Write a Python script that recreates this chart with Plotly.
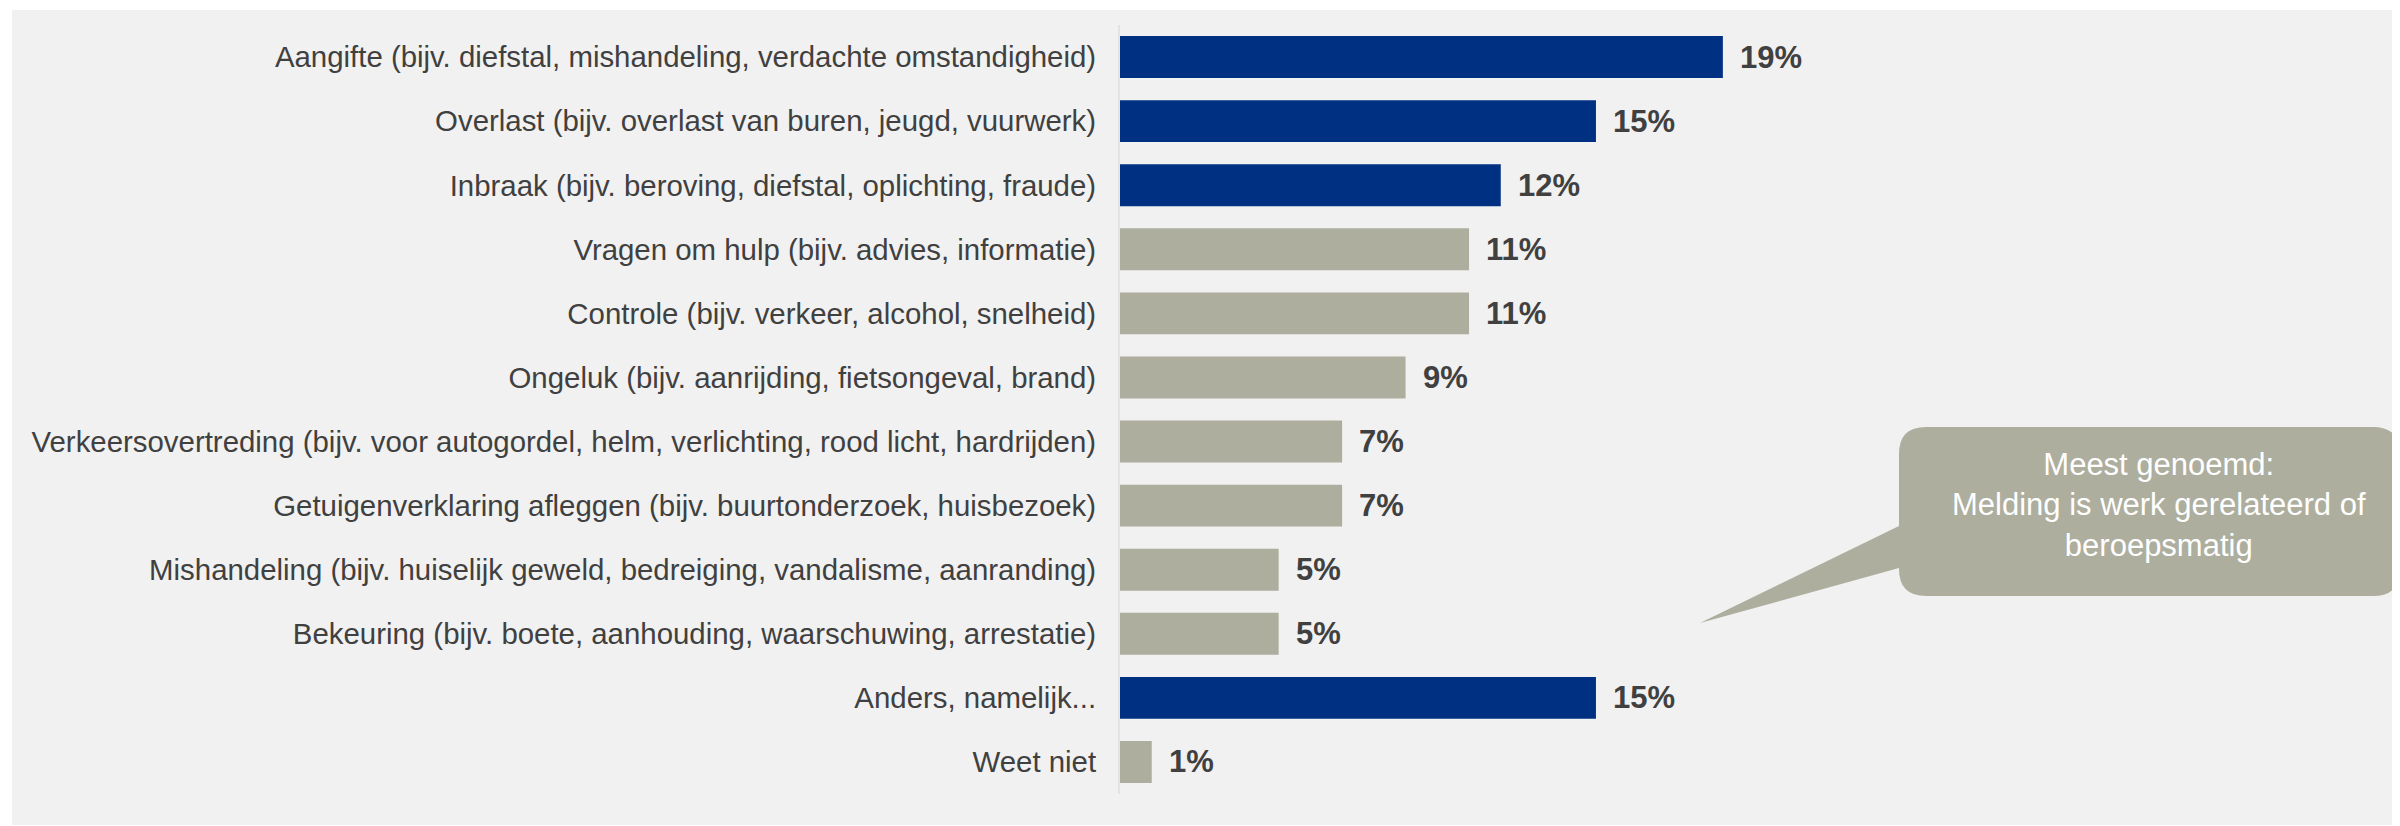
import plotly.graph_objects as go

# Data
categories = [
    'Aangifte (bijv. diefstal, mishandeling, verdachte omstandigheid)',
    'Overlast (bijv. overlast van buren, jeugd, vuurwerk)',
    'Inbraak (bijv. beroving, diefstal, oplichting, fraude)',
    'Vragen om hulp (bijv. advies, informatie)',
    'Controle (bijv. verkeer, alcohol, snelheid)',
    'Ongeluk (bijv. aanrijding, fietsongeval, brand)',
    'Verkeersovertreding (bijv. voor autogordel, helm, verlichting, rood licht, hardrijden)',
    'Getuigenverklaring afleggen (bijv. buurtonderzoek, huisbezoek)',
    'Mishandeling (bijv. huiselijk geweld, bedreiging, vandalisme, aanranding)',
    'Bekeuring (bijv. boete, aanhouding, waarschuwing, arrestatie)',
    'Anders, namelijk...',
    'Weet niet',
]
values = [19, 15, 12, 11, 11, 9, 7, 7, 5, 5, 15, 1]
highlighted = ['Aangifte (bijv. diefstal, mishandeling, verdachte omstandigheid)',
               'Overlast (bijv. overlast van buren, jeugd, vuurwerk)',
               'Inbraak (bijv. beroving, diefstal, oplichting, fraude)',
               'Anders, namelijk...']
callout_text = 'Meest genoemd:<br>Melding is werk gerelateerd of<br>beroepsmatig'

NAVY = '#003082'
GREY = '#adae9e'
BG = '#f1f1f1'
TXT = '#404040'
FONT = 'Arial, Liberation Sans, sans-serif'

W, H = 2400, 826
ML, MR, MT, MB = 1112, 0, 17, 40
PW, PH = W - ML - MR, H - MT - MB

# helpers to place decorations in pixel terms
def px(x):
    return (x - ML) / PW

def py(y):
    return (H - MB - y) / PH

colors = [NAVY if c in highlighted else GREY for c in categories]

fig = go.Figure()
fig.add_trace(go.Bar(
    x=values, y=categories, orientation='h',
    marker=dict(color=colors, line=dict(width=0)),
    hoverinfo='skip',
))

# value labels
for c, v in zip(categories, values):
    fig.add_annotation(x=v, y=c, text=f'<b>{v}%</b>', showarrow=False,
                       xanchor='left', xshift=15,
                       font=dict(family=FONT, size=31, color=TXT))

# grey background panel
fig.add_shape(type='rect', xref='paper', yref='paper',
              x0=px(4), x1=px(2400), y0=py(817), y1=py(2),
              fillcolor=BG, line=dict(width=0), layer='below')

# callout bubble with tail
r = 27
bx0, bx1, by0, by1 = 1891, 2392, 419, 588
tail_top, tail_bot, tip = 518, 560, (1692, 615)
pts = [
    ('M', bx0 + r, by0), ('L', bx1 - r, by0), ('Q', bx1, by0, bx1, by0 + r),
    ('L', bx1, by1 - r), ('Q', bx1, by1, bx1 - r, by1),
    ('L', bx0 + r, by1), ('Q', bx0, by1, bx0, by1 - r),
    ('L', bx0, tail_bot), ('L', tip[0], tip[1]), ('L', bx0, tail_top),
    ('L', bx0, by0 + r), ('Q', bx0, by0, bx0 + r, by0),
]
path = ''
for p in pts:
    cmd, coords = p[0], p[1:]
    xy = []
    for i in range(0, len(coords), 2):
        xy.append(f'{px(coords[i]):.5f},{py(coords[i + 1]):.5f}')
    path += cmd + ' '.join(xy) + ' '
path += 'Z'
fig.add_shape(type='path', xref='paper', yref='paper', path=path,
              fillcolor=GREY, line=dict(width=0), layer='above')

fig.add_annotation(xref='paper', yref='paper', x=px(2151), y=py(497),
                   text=callout_text, showarrow=False, align='center',
                   xanchor='center', yanchor='middle',
                   font=dict(family=FONT, size=31, color='white'))

fig.update_layout(
    width=W, height=H,
    margin=dict(l=ML, r=MR, t=MT, b=MB, autoexpand=False),
    paper_bgcolor='white',
    plot_bgcolor='rgba(0,0,0,0)',
    bargap=0.345,
    showlegend=False,
    xaxis=dict(range=[0, PW / 31.73], visible=False, fixedrange=True),
    yaxis=dict(autorange='reversed', showgrid=False, zeroline=False,
               showline=True, linecolor='#e3e3e3', linewidth=2,
               ticks='', ticklabelstandoff=16,
               tickfont=dict(family=FONT, size=29.4, color=TXT)),
)

fig.write_html('out.html')
